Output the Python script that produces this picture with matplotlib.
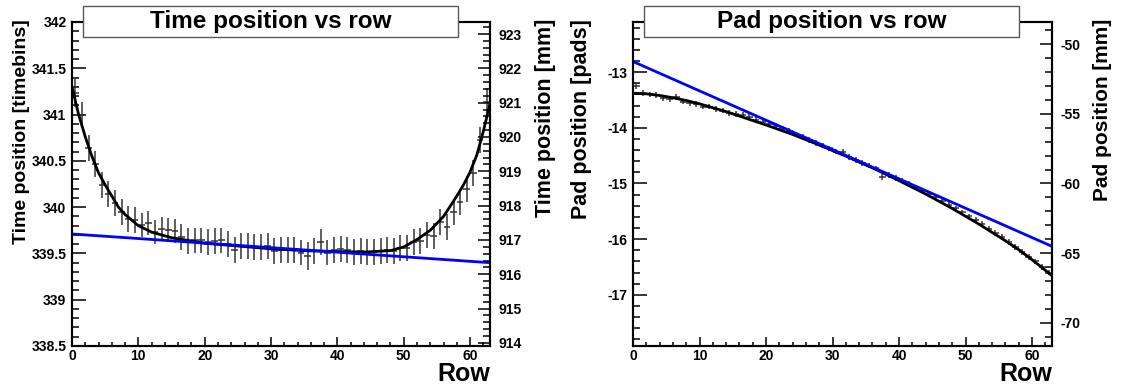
import numpy as np
import matplotlib
matplotlib.use("Agg")
import matplotlib.pyplot as plt
from matplotlib.ticker import MultipleLocator, FormatStrFormatter
from matplotlib.patches import Rectangle

plt.rcParams['font.family'] = ['Liberation Sans', 'DejaVu Sans']
plt.rcParams['font.weight'] = 'bold'
plt.rcParams['axes.unicode_minus'] = False

# rows 0..62, points drawn at bin centres
rows = np.arange(63)

# time position per row [timebins]
time_pos = [341.23, 341.00, 340.64, 340.47, 340.24, 340.14, 340.04, 339.95, 339.87, 339.86,
            339.81, 339.83, 339.73, 339.76, 339.75, 339.74, 339.68, 339.63, 339.64, 339.64,
            339.62, 339.63, 339.64, 339.60, 339.54, 339.58, 339.58, 339.57, 339.57, 339.58,
            339.53, 339.54, 339.54, 339.54, 339.51, 339.47, 339.53, 339.62, 339.51, 339.54,
            339.55, 339.54, 339.52, 339.53, 339.52, 339.52, 339.53, 339.54, 339.53, 339.56,
            339.56, 339.62, 339.63, 339.70, 339.69, 339.84, 339.79, 339.95, 340.06, 340.20,
            340.37, 340.73, 341.14]
time_err = [0.15, 0.14, 0.14, 0.14, 0.14, 0.14, 0.14, 0.14, 0.14, 0.14,
            0.13, 0.13, 0.13, 0.13, 0.13, 0.13, 0.14, 0.14, 0.14, 0.14,
            0.14, 0.14, 0.14, 0.14, 0.14, 0.14, 0.14, 0.14, 0.14, 0.14,
            0.14, 0.14, 0.14, 0.14, 0.14, 0.15, 0.14, 0.14, 0.14, 0.14,
            0.14, 0.14, 0.14, 0.14, 0.14, 0.14, 0.14, 0.14, 0.14, 0.14,
            0.14, 0.14, 0.14, 0.14, 0.14, 0.14, 0.14, 0.14, 0.14, 0.14,
            0.14, 0.14, 0.15]

# fit curve (black) samples
time_fit_x = [0, 1, 2, 3, 4, 5, 6, 7, 8, 10, 12, 15, 20, 25, 30, 35, 40, 44, 48, 50, 52, 54, 56, 58, 59, 60, 61, 62, 63]
time_fit_y = [341.30, 341.00, 340.76, 340.55, 340.37, 340.24, 340.12, 340.00, 339.92, 339.80,
              339.73, 339.67, 339.61, 339.58, 339.55, 339.53, 339.52, 339.515, 339.53, 339.57,
              339.65, 339.75, 339.90, 340.12, 340.24, 340.38, 340.56, 340.82, 341.12]
# linear fit (blue)
time_lin_x = [0, 63]
time_lin_y = [339.71, 339.40]

# pad position per row [pads]
pad_pos = [-13.25, -13.38, -13.40, -13.41, -13.47, -13.48, -13.45, -13.53, -13.55, -13.57,
           -13.62, -13.62, -13.66, -13.69, -13.73, -13.75, -13.77, -13.81, -13.86, -13.90,
           -13.93, -13.97, -14.01, -14.06, -14.12, -14.17, -14.22, -14.27, -14.32, -14.37,
           -14.43, -14.44, -14.53, -14.58, -14.63, -14.68, -14.73, -14.88, -14.85, -14.90,
           -14.95, -15.01, -15.07, -15.13, -15.19, -15.25, -15.32, -15.38, -15.45, -15.52,
           -15.59, -15.66, -15.73, -15.81, -15.89, -15.96, -16.05, -16.14, -16.23, -16.32,
           -16.40, -16.50, -16.60]
pad_err = [0.05] * 63

pad_fit_x = [0, 2, 4, 6, 8, 10, 12, 14, 16, 20, 24, 28, 32, 36, 40, 44, 48, 52, 56, 58, 60, 62, 63]
pad_fit_y = [-13.38, -13.39, -13.42, -13.46, -13.51, -13.57, -13.64, -13.71, -13.79, -13.95,
             -14.12, -14.31, -14.51, -14.72, -14.95, -15.19, -15.45, -15.73, -16.03, -16.19,
             -16.37, -16.56, -16.66]
pad_lin_x = [0, 63]
pad_lin_y = [-12.81, -16.13]

W, H = 1122, 388
fig = plt.figure(figsize=(W / 100, H / 100), dpi=100)


def setup(ax, ylim, ymaj, ymin, fmt):
    ax.set_xlim(0, 63)
    ax.set_ylim(*ylim)
    ax.xaxis.set_major_locator(MultipleLocator(10))
    ax.xaxis.set_minor_locator(MultipleLocator(2))
    ax.yaxis.set_major_locator(MultipleLocator(ymaj))
    ax.yaxis.set_minor_locator(MultipleLocator(ymin))
    ax.yaxis.set_major_formatter(FormatStrFormatter(fmt))
    ax.tick_params(axis='x', which='major', direction='in', length=6.5, width=1.1,
                   top=False, labelsize=10, pad=2)
    ax.tick_params(axis='x', which='minor', direction='in', length=3.2, width=1.1, top=False)
    ax.tick_params(axis='y', which='major', direction='in', length=10, width=1.1,
                   right=False, labelsize=10, pad=4)
    ax.tick_params(axis='y', which='minor', direction='in', length=5, width=1.1, right=False)
    for s in ax.spines.values():
        s.set_linewidth(1.5)


def twin(ax, ylim, ymaj, ymin):
    t = ax.twinx()
    t.set_ylim(*ylim)
    t.yaxis.set_major_locator(MultipleLocator(ymaj))
    t.yaxis.set_minor_locator(MultipleLocator(ymin))
    t.tick_params(axis='y', which='major', direction='in', length=9, width=1.1, labelsize=10, pad=6)
    t.tick_params(axis='y', which='minor', direction='in', length=5, width=1.1)
    for s in t.spines.values():
        s.set_linewidth(1.5)
    return t


# left panel
ax1 = fig.add_axes([72 / W, 1 - 346 / H, 418 / W, 324 / H])
setup(ax1, (338.5, 342), 0.5, 0.1, '%g')
ax1.errorbar(rows + 0.5, time_pos, yerr=time_err, xerr=0.5, fmt='none',
             ecolor='0.2', elinewidth=1.1, capsize=0)
ax1.plot(time_fit_x, time_fit_y, color='black', lw=2)
ax1.plot(time_lin_x, time_lin_y, color='#0000ff', lw=2)
twin(ax1, (913.91, 923.35), 1, 0.2)

# right panel
ax2 = fig.add_axes([633 / W, 1 - 346 / H, 419 / W, 324 / H])
setup(ax2, (-17.92, -12.1), 1, 0.2, '%g')
ax2.errorbar(rows + 0.5, pad_pos, yerr=pad_err, xerr=0.5, fmt='none',
             ecolor='0.2', elinewidth=1.1, capsize=0)
ax2.plot(pad_fit_x, pad_fit_y, color='black', lw=2)
ax2.plot(pad_lin_x, pad_lin_y, color='#0000ff', lw=2)
twin(ax2, (-71.68, -48.4), 5, 1)

# title boxes
for x0, txt in [(83, 'Time position vs row'), (644, 'Pad position vs row')]:
    fig.patches.append(Rectangle((x0 / W, 1 - 37 / H), 375 / W, 31 / H,
                                 transform=fig.transFigure, facecolor='white',
                                 edgecolor='0.35', lw=1, zorder=5))
    fig.text((x0 + 187.5) / W, 1 - 21.5 / H, txt, ha='center', va='center',
             fontsize=17.5, fontweight='bold', zorder=6)

# axis titles
fig.text(22 / W, 1 - 19 / H, 'Time position [timebins]', rotation=90,
         ha='center', va='top', fontsize=14, fontweight='bold')
fig.text(545 / W, 1 - 19 / H, 'Time position [mm]', rotation=90,
         ha='center', va='top', fontsize=15.5, fontweight='bold')
fig.text(582 / W, 1 - 19 / H, 'Pad position [pads]', rotation=90,
         ha='center', va='top', fontsize=15.5, fontweight='bold')
fig.text(1103 / W, 1 - 19 / H, 'Pad position [mm]', rotation=90,
         ha='center', va='top', fontsize=15, fontweight='bold')
fig.text(490 / W, 1 - 381 / H, 'Row', ha='right', va='baseline', fontsize=18, fontweight='bold')
fig.text(1052 / W, 1 - 381 / H, 'Row', ha='right', va='baseline', fontsize=18, fontweight='bold')

fig.savefig('out.png', dpi=100)
